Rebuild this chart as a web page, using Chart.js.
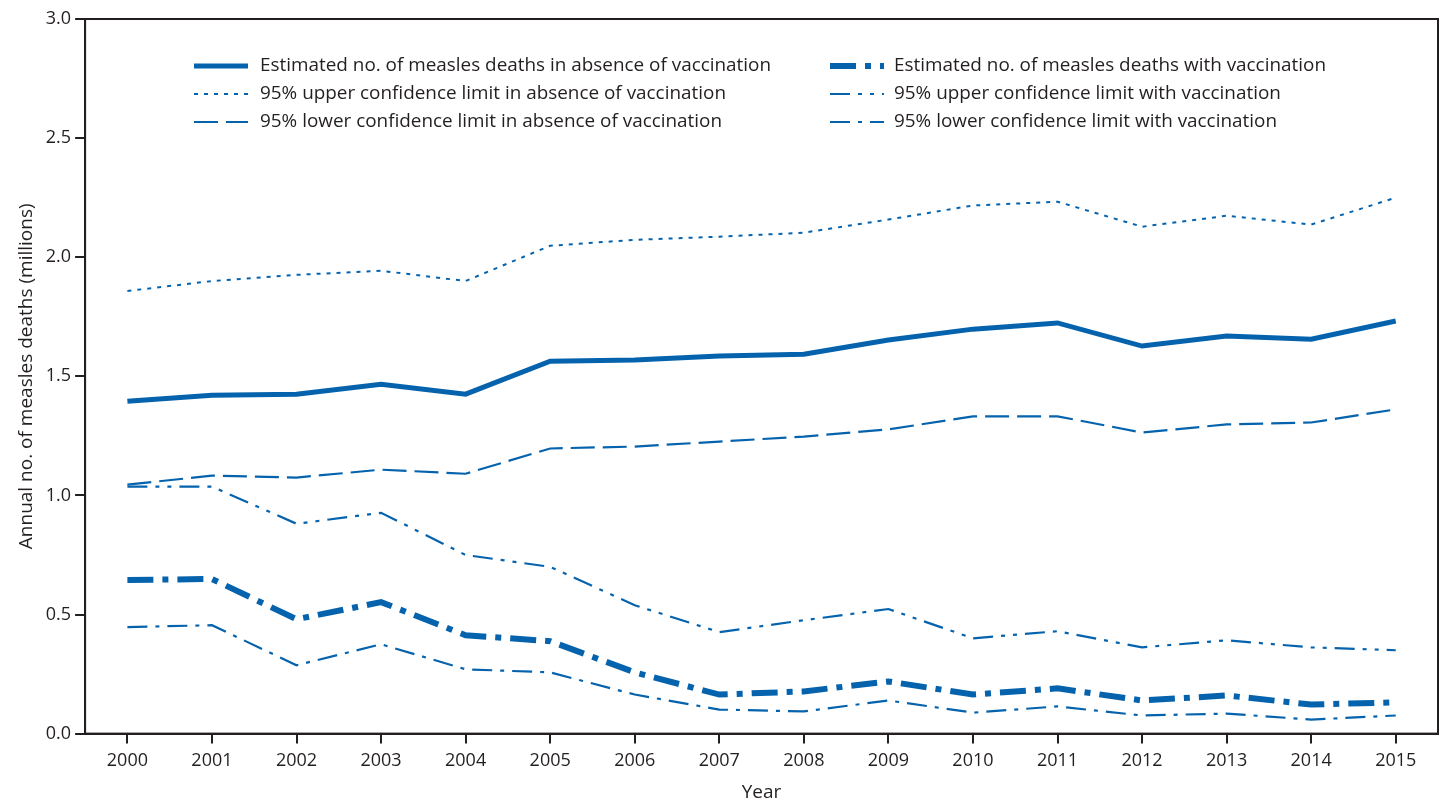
<!DOCTYPE html>
<html>
<head>
<meta charset="utf-8">
<script src="https://cdn.jsdelivr.net/npm/chart.js@4"></script>
<style>
  html, body { margin: 0; padding: 0; background: #fff; }
  #wrap { width: 1448px; height: 801px; }
</style>
</head>
<body>
<div id="wrap"><canvas id="measlesChart" width="1448" height="801"></canvas></div>
<script>
// Data
const years = ['2000', '2001', '2002', '2003', '2004', '2005', '2006', '2007',
    '2008', '2009', '2010', '2011', '2012', '2013', '2014', '2015']

const noVaccEstimate = [1.395, 1.42, 1.425, 1.467, 1.425, 1.563, 1.568, 1.585, 1.593, 1.652, 1.698, 1.724, 1.627, 1.669, 1.656, 1.732]
const noVaccUpper = [1.858, 1.9, 1.926, 1.943, 1.9, 2.048, 2.073, 2.086, 2.103, 2.158, 2.217, 2.233, 2.128, 2.174, 2.137, 2.25]
const noVaccLower = [1.045, 1.083, 1.075, 1.108, 1.091, 1.197, 1.205, 1.226, 1.247, 1.277, 1.332, 1.332, 1.264, 1.298, 1.306, 1.361]
const vaccEstimate = [0.645, 0.649, 0.48, 0.552, 0.413, 0.388, 0.257, 0.164, 0.177, 0.219, 0.164, 0.19, 0.139, 0.16, 0.122, 0.131]
const vaccUpper = [1.037, 1.037, 0.881, 0.927, 0.75, 0.7, 0.539, 0.426, 0.476, 0.523, 0.4, 0.43, 0.362, 0.392, 0.362, 0.35]
const vaccLower = [0.447, 0.455, 0.287, 0.375, 0.27, 0.257, 0.164, 0.101, 0.093, 0.139, 0.088, 0.114, 0.076, 0.084, 0.059, 0.076]

const blue = '#0563ad'
const ink = '#231f20'
const fontFamily = "'Open Sans', 'Noto Sans', sans-serif"

function series(label, values, width, dash) {
    return {
        label: label,
        data: values,
        borderColor: blue,
        backgroundColor: blue,
        borderWidth: width,
        borderDash: dash,
        borderCapStyle: 'butt',
        borderJoinStyle: 'miter',
        pointRadius: 0,
        tension: 0,
        fill: false
    }
}

const datasets = [
    series('Estimated no. of measles deaths in absence of vaccination', noVaccEstimate, 5, []),
    series('Estimated no. of measles deaths with vaccination', vaccEstimate, 6, [26, 9, 6, 9]),
    series('95% upper confidence limit in absence of vaccination', noVaccUpper, 2, [4, 6]),
    series('95% upper confidence limit with vaccination', vaccUpper, 2.2, [20, 8, 4, 8, 4, 8]),
    series('95% lower confidence limit in absence of vaccination', noVaccLower, 2.2, [24, 8]),
    series('95% lower confidence limit with vaccination', vaccLower, 2.2, [20, 8, 4, 8])
]

// legend drawn in two columns inside the plot area, plus the frame
const frameAndLegend = {
    id: 'frameAndLegend',
    afterDatasetsDraw(chart) {
        const ctx = chart.ctx
        const area = chart.chartArea
        ctx.save()
        ctx.strokeStyle = ink
        ctx.lineWidth = 2
        ctx.strokeRect(area.left, area.top, area.right - area.left, area.bottom - area.top)

        const cols = [{ lineX: 194, textX: 260 }, { lineX: 830, textX: 894 }]
        const rows = [66, 94, 122]
        ctx.font = '18.9px ' + fontFamily
        ctx.textBaseline = 'middle'
        chart.data.datasets.forEach((ds, i) => {
            const col = cols[i % 2]
            const y = rows[Math.floor(i / 2)]
            ctx.strokeStyle = ds.borderColor
            ctx.lineWidth = ds.borderWidth
            ctx.setLineDash(ds.borderDash)
            ctx.lineCap = 'butt'
            ctx.beginPath()
            ctx.moveTo(col.lineX, y)
            ctx.lineTo(col.lineX + 54, y)
            ctx.stroke()
            ctx.setLineDash([])
            ctx.fillStyle = ink
            ctx.fillText(ds.label, col.textX, y)
        })
        ctx.restore()
    }
}

const config = {
    type: 'line',
    data: { labels: years, datasets: datasets },
    options: {
        responsive: false,
        animation: false,
        layout: { padding: { top: 19, right: 10, left: 15, bottom: 0 } },
        plugins: { legend: { display: false }, tooltip: { enabled: false } },
        scales: {
            x: {
                offset: true,
                grid: { drawOnChartArea: false, drawTicks: true, tickLength: 10, color: ink, lineWidth: 2 },
                border: { display: true, color: ink, width: 2 },
                ticks: { color: ink, font: { family: fontFamily, size: 18 }, padding: 6, maxRotation: 0 },
                title: { display: true, text: 'Year', color: ink, font: { family: fontFamily, size: 19 }, padding: { top: 4, bottom: -3 } }
            },
            y: {
                min: 0,
                max: 3,
                grid: { drawOnChartArea: false, drawTicks: true, tickLength: 10, color: ink, lineWidth: 2 },
                border: { display: true, color: ink, width: 2 },
                ticks: {
                    stepSize: 0.5,
                    color: ink,
                    font: { family: fontFamily, size: 18 },
                    padding: 4,
                    callback: v => v.toFixed(1)
                },
                title: { display: true, text: 'Annual no. of measles deaths (millions)', color: ink, font: { family: fontFamily, size: 19 }, padding: { top: 0, bottom: 4 } }
            }
        }
    },
    plugins: [frameAndLegend]
}

const myChart = new Chart(document.getElementById('measlesChart'), config)
</script>
</body>
</html>
